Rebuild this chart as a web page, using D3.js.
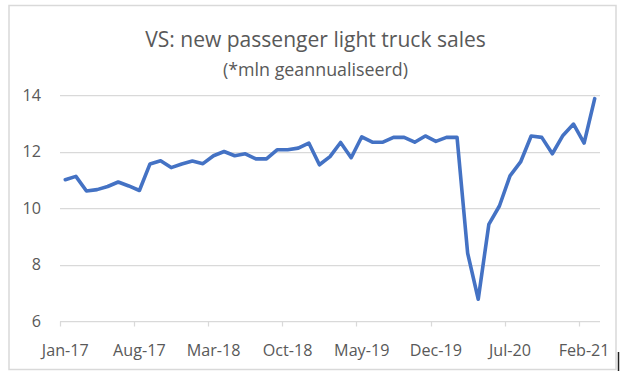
<!DOCTYPE html>
<html>
<head>
<meta charset="utf-8">
<script src="https://cdn.jsdelivr.net/npm/d3@7"></script>
<style>
  html, body { margin: 0; padding: 0; background: #fff; }
  svg { display: block; }
  text { font-family: "Open Sans", "Noto Sans", sans-serif; fill: #595959; }
</style>
</head>
<body>
<svg id="chart" width="625" height="380"></svg>
<script>
// ---- data ----
const months = [
  "Jan-17","Feb-17","Mar-17","Apr-17","May-17","Jun-17","Jul-17","Aug-17","Sep-17","Oct-17","Nov-17","Dec-17",
  "Jan-18","Feb-18","Mar-18","Apr-18","May-18","Jun-18","Jul-18","Aug-18","Sep-18","Oct-18","Nov-18","Dec-18",
  "Jan-19","Feb-19","Mar-19","Apr-19","May-19","Jun-19","Jul-19","Aug-19","Sep-19","Oct-19","Nov-19","Dec-19",
  "Jan-20","Feb-20","Mar-20","Apr-20","May-20","Jun-20","Jul-20","Aug-20","Sep-20","Oct-20","Nov-20","Dec-20",
  "Jan-21","Feb-21","Mar-21"
];
const sales = [
  11.0, 11.12, 10.6, 10.65, 10.76, 10.92, 10.78, 10.62, 11.56, 11.67, 11.43, 11.56,
  11.66, 11.57, 11.85, 12.0, 11.85, 11.92, 11.74, 11.74, 12.06, 12.06, 12.12, 12.3,
  11.53, 11.82, 12.32, 11.78, 12.52, 12.33, 12.33, 12.5, 12.5, 12.33, 12.55, 12.36,
  12.5, 12.5, 8.4, 6.77, 9.42, 10.07, 11.14, 11.63, 12.55, 12.5, 11.92, 12.57,
  12.97, 12.3, 13.87
];
const tickLabels = ["Jan-17","Aug-17","Mar-18","Oct-18","May-19","Dec-19","Jul-20","Feb-21"];
const yTicks = [6, 8, 10, 12, 14];
const titleText = "VS: new passenger light truck sales";
const subtitleText = "(*mln geannualiseerd)";

// ---- layout ----
const svg = d3.select("#chart");
const plotLeft = 60, plotRight = 600, plotTop = 95, plotBottom = 321;

// outer frame
svg.append("rect")
  .attr("x", 9).attr("y", 5.5).attr("width", 607).attr("height", 364)
  .attr("fill", "#fff").attr("stroke", "#d9d9d9").attr("stroke-width", 1.5);
svg.append("line")
  .attr("x1", 618.5).attr("x2", 618.5).attr("y1", 352).attr("y2", 371)
  .attr("stroke", "#222").attr("stroke-width", 1.5);

const x = d3.scaleBand().domain(months).range([plotLeft, plotRight]).padding(0);
const y = d3.scaleLinear().domain([6, 14]).range([plotBottom, plotTop]);

function fitText(sel, target) {
  const w = sel.node().getComputedTextLength();
  const fs = parseFloat(sel.attr("font-size"));
  if (w > 0) sel.attr("font-size", fs * target / w);
  return parseFloat(sel.attr("font-size"));
}

// title
const t1 = svg.append("text").attr("x", 315.5).attr("y", 47)
  .attr("text-anchor", "middle").attr("font-size", 20).text(titleText);
fitText(t1, 341);
const t2 = svg.append("text").attr("x", 315.5).attr("y", 76)
  .attr("text-anchor", "middle").attr("font-size", 16).text(subtitleText);
fitText(t2, 185);

// axis font size sized from the reference label width
const probe = svg.append("text").attr("font-size", 16).text("Feb-21");
const axisFont = fitText(probe, 51);
probe.remove();

// gridlines
const grid = svg.append("g");
grid.selectAll("line").data(yTicks.filter(d => d !== 6)).join("line")
  .attr("x1", plotLeft).attr("x2", plotRight)
  .attr("y1", d => Math.round(y(d)) + 0.5).attr("y2", d => Math.round(y(d)) + 0.5)
  .attr("stroke", "#d9d9d9").attr("stroke-width", 1.25);

// y labels
svg.append("g").selectAll("text").data(yTicks).join("text")
  .attr("x", 41).attr("y", d => y(d)).attr("dy", "0.35em")
  .attr("text-anchor", "end").attr("font-size", axisFont)
  .text(d => d);

// x axis
const xAxisG = svg.append("g").attr("transform", `translate(0,${Math.round(plotBottom) + 0.5})`);
const tickIdx = tickLabels.map(l => months.indexOf(l));
xAxisG.append("line").attr("x1", plotLeft).attr("x2", plotRight).attr("y1", 0).attr("y2", 0)
  .attr("stroke", "#d9d9d9").attr("stroke-width", 1.25);
xAxisG.selectAll("line.tick").data(tickIdx).join("line").attr("class", "tick")
  .attr("x1", i => Math.round(x(months[i])) + 0.5).attr("x2", i => Math.round(x(months[i])) + 0.5)
  .attr("y1", 0).attr("y2", 5)
  .attr("stroke", "#d9d9d9").attr("stroke-width", 1.25);
xAxisG.selectAll("text").data(tickLabels).join("text")
  .attr("x", d => x(d) + x.bandwidth() / 2).attr("y", 34)
  .attr("text-anchor", "middle").attr("font-size", axisFont)
  .text(d => d);

// line
const line = d3.line()
  .x((d, i) => x(months[i]) + x.bandwidth() / 2)
  .y(d => y(d));
svg.append("path").datum(sales)
  .attr("d", line)
  .attr("fill", "none").attr("stroke", "#4472C4").attr("stroke-width", 3.6)
  .attr("stroke-linejoin", "round").attr("stroke-linecap", "round");
</script>
</body>
</html>
